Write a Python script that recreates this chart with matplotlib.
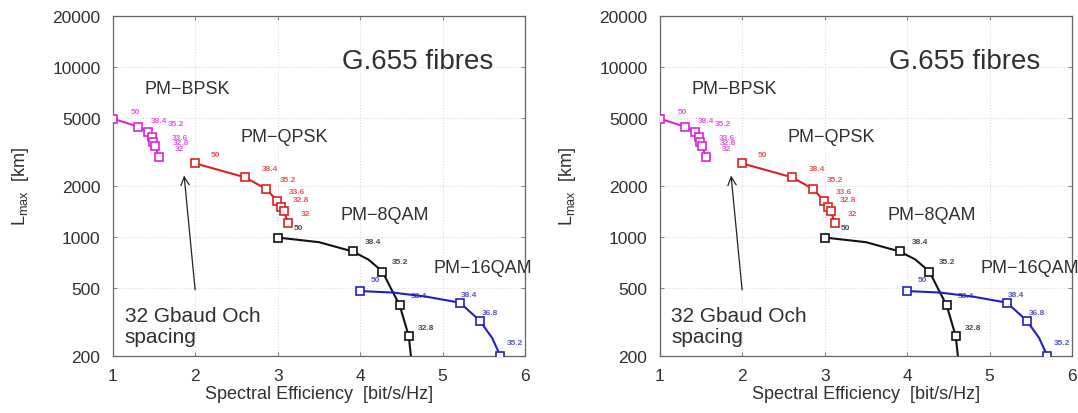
import matplotlib
matplotlib.use("Agg")
import matplotlib.pyplot as plt
from matplotlib.ticker import NullLocator

plt.rcParams["font.family"] = ["Liberation Sans", "DejaVu Sans"]

# ── data ─────────────────────────────────────────────────────────────────────
# spectral efficiency [bit/s/Hz] and max reach [km] at each marker
bpsk_se = [1.00, 1.30, 1.42, 1.47, 1.49, 1.51, 1.56]
bpsk_l = [4950, 4450, 4150, 3850, 3600, 3400, 2950]

qpsk_se = [2.00, 2.60, 2.86, 2.99, 3.04, 3.07, 3.13]
qpsk_l = [2700, 2240, 1910, 1630, 1490, 1410, 1200]

qam8_se = [3.00, 3.91, 4.27, 4.48, 4.59]
qam8_l = [990, 820, 625, 395, 260]
# fitted curve (runs off the bottom of the axes)
qam8_curve_se = [3.00, 3.50, 3.91, 4.10, 4.27, 4.38, 4.48, 4.59, 4.62]
qam8_curve_l = [990, 930, 820, 735, 625, 490, 395, 260, 190]

qam16_se = [4.00, 5.21, 5.45, 5.70]
qam16_l = [480, 410, 322, 200]
qam16_curve_se = [4.00, 4.40, 4.80, 5.21, 5.45, 5.60, 5.70]
qam16_curve_l = [480, 470, 445, 410, 322, 255, 200]

# channel spacing tags [GHz] and where they sit
bpsk_tags = ["50", "38.4", "35.2", "33.6", "32.8", "32"]
bpsk_tag_se = [1.27, 1.56, 1.77, 1.81, 1.83, 1.81]
bpsk_tag_l = [5430, 4820, 4650, 3850, 3600, 3310]

qpsk_tags = ["50", "38.4", "35.2", "33.6", "32.8", "32"]
qpsk_tag_se = [2.24, 2.91, 3.13, 3.23, 3.28, 3.34]
qpsk_tag_l = [3030, 2505, 2170, 1855, 1668, 1362]

qam8_tags = ["50", "38.4", "35.2", "32.8"]
qam8_tag_se = [3.25, 4.16, 4.48, 4.80]
qam8_tag_l = [1140, 938, 715, 294]

qam16_tags = ["50", "38.4", "38.4", "36.8", "35.2"]
qam16_tag_se = [4.18, 4.71, 5.32, 5.57, 5.88]
qam16_tag_l = [560, 451, 461, 360, 238]

y_ticks = [200, 500, 1000, 2000, 5000, 10000, 20000]
x_ticks = [1, 2, 3, 4, 5, 6]

series = [
    ("PM\u2212BPSK", "#dd22dd", bpsk_se, bpsk_l, bpsk_se, bpsk_l,
     bpsk_tags, bpsk_tag_se, bpsk_tag_l, (1.90, 7400)),
    ("PM\u2212QPSK", "#e02020", qpsk_se, qpsk_l, qpsk_se, qpsk_l,
     qpsk_tags, qpsk_tag_se, qpsk_tag_l, (3.08, 3900)),
    ("PM\u22128QAM", "#111111", qam8_se, qam8_l, qam8_curve_se, qam8_curve_l,
     qam8_tags, qam8_tag_se, qam8_tag_l, (4.30, 1360)),
    ("PM\u221216QAM", "#2020c0", qam16_se, qam16_l, qam16_curve_se, qam16_curve_l,
     qam16_tags, qam16_tag_se, qam16_tag_l, (5.49, 662)),
]

TXT = "#303030"


def draw_panel(ax):
    for name, col, se, ll, cse, cll, tags, tse, tll, name_pos in series:
        ax.plot(cse, cll, color=col, lw=1.5, zorder=3)
        ax.plot(se, ll, ls="none", marker="s", ms=5.5, mfc="white",
                mec=col, mew=1.2, zorder=4)
        for t, tx, ty in zip(tags, tse, tll):
            ax.text(tx, ty, t, color=col, fontsize=6, fontweight="bold",
                    ha="center", va="center", alpha=0.75, zorder=5,
                    clip_on=False)
        ax.text(name_pos[0], name_pos[1], name, fontsize=13, color=TXT,
                ha="center", va="center", clip_on=False)

    ax.text(4.70, 10800, "G.655 fibres", fontsize=20, color=TXT,
            ha="center", va="center")
    ax.text(1.14, 299, "32 Gbaud Och\nspacing", fontsize=15, color=TXT,
            ha="left", va="center", linespacing=1.15)
    ax.annotate("", xy=(1.86, 2380), xytext=(2.0, 470),
                arrowprops=dict(arrowstyle="->,head_length=0.6,head_width=0.3",
                                lw=0.9, color="#222222"))

    ax.set_yscale("log")
    ax.set_xlim(1, 6)
    ax.set_ylim(200, 20000)
    ax.set_yticks(y_ticks)
    ax.set_yticklabels([str(v) for v in y_ticks])
    ax.set_xticks(x_ticks)
    ax.set_xticklabels([str(v) for v in x_ticks])
    ax.yaxis.set_minor_locator(NullLocator())
    ax.tick_params(direction="in", top=True, right=True, length=3,
                   labelsize=12.5, color="#888888", labelcolor=TXT, pad=9)
    ax.grid(True, ls=":", color="#dcdcdc", lw=0.8)
    for sp in ax.spines.values():
        sp.set_color("#666666")
        sp.set_linewidth(0.9)

    ax.set_xlabel("Spectral Efficiency  [bit/s/Hz]", fontsize=13, color=TXT)
    ax.set_ylabel(r"L$_{\mathregular{max}}$  [km]", fontsize=13, color=TXT)
    ax.xaxis.set_label_coords(0.5, -0.085)
    ax.yaxis.set_label_coords(-0.2, 0.5)


fig = plt.figure(figsize=(10.78, 4.14), dpi=100)
ax1 = fig.add_axes([0.1048, 0.1384, 0.3822, 0.8217])
ax2 = fig.add_axes([0.6122, 0.1384, 0.3822, 0.8217])
draw_panel(ax1)
draw_panel(ax2)

fig.savefig("out.png", dpi=100)
